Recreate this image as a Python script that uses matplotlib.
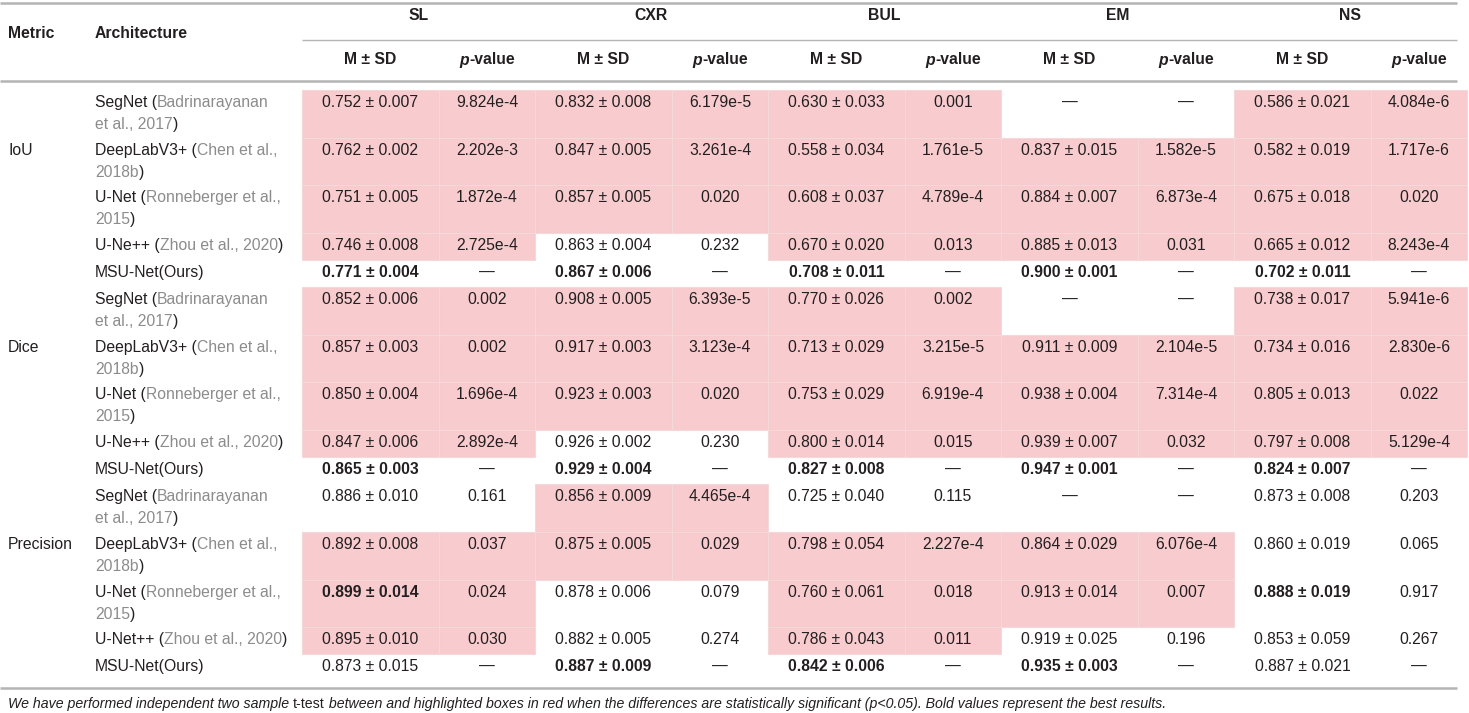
import matplotlib
matplotlib.use("Agg")
import matplotlib.pyplot as plt
from matplotlib.patches import Rectangle

# ---- table content ----
metrics = ["IoU", "Dice", "Precision"]
datasets = ["SL", "CXR", "BUL", "EM", "NS"]
arch_names = [
    ["SegNet", "DeepLabV3+", "U-Net", "U-Ne++", "MSU-Net(Ours)"],
    ["SegNet", "DeepLabV3+", "U-Net", "U-Ne++", "MSU-Net(Ours)"],
    ["SegNet", "DeepLabV3+", "U-Net", "U-Net++", "MSU-Net(Ours)"],
]
cite_line1 = ["Badrinarayanan", "Chen et al.,", "Ronneberger et al.,", "Zhou et al., 2020", None]
cite_line2 = ["et al., 2017", "2018b", "2015", None, None]

iou_mean = [[0.752, 0.832, 0.630, None, 0.586],
            [0.762, 0.847, 0.558, 0.837, 0.582],
            [0.751, 0.857, 0.608, 0.884, 0.675],
            [0.746, 0.863, 0.670, 0.885, 0.665],
            [0.771, 0.867, 0.708, 0.900, 0.702]]
iou_sd = [[0.007, 0.008, 0.033, None, 0.021],
          [0.002, 0.005, 0.034, 0.015, 0.019],
          [0.005, 0.005, 0.037, 0.007, 0.018],
          [0.008, 0.004, 0.020, 0.013, 0.012],
          [0.004, 0.006, 0.011, 0.001, 0.011]]
iou_p = [["9.824e-4", "6.179e-5", "0.001", None, "4.084e-6"],
         ["2.202e-3", "3.261e-4", "1.761e-5", "1.582e-5", "1.717e-6"],
         ["1.872e-4", "0.020", "4.789e-4", "6.873e-4", "0.020"],
         ["2.725e-4", "0.232", "0.013", "0.031", "8.243e-4"],
         [None, None, None, None, None]]

dice_mean = [[0.852, 0.908, 0.770, None, 0.738],
             [0.857, 0.917, 0.713, 0.911, 0.734],
             [0.850, 0.923, 0.753, 0.938, 0.805],
             [0.847, 0.926, 0.800, 0.939, 0.797],
             [0.865, 0.929, 0.827, 0.947, 0.824]]
dice_sd = [[0.006, 0.005, 0.026, None, 0.017],
           [0.003, 0.003, 0.029, 0.009, 0.016],
           [0.004, 0.003, 0.029, 0.004, 0.013],
           [0.006, 0.002, 0.014, 0.007, 0.008],
           [0.003, 0.004, 0.008, 0.001, 0.007]]
dice_p = [["0.002", "6.393e-5", "0.002", None, "5.941e-6"],
          ["0.002", "3.123e-4", "3.215e-5", "2.104e-5", "2.830e-6"],
          ["1.696e-4", "0.020", "6.919e-4", "7.314e-4", "0.022"],
          ["2.892e-4", "0.230", "0.015", "0.032", "5.129e-4"],
          [None, None, None, None, None]]

prec_mean = [[0.886, 0.856, 0.725, None, 0.873],
             [0.892, 0.875, 0.798, 0.864, 0.860],
             [0.899, 0.878, 0.760, 0.913, 0.888],
             [0.895, 0.882, 0.786, 0.919, 0.853],
             [0.873, 0.887, 0.842, 0.935, 0.887]]
prec_sd = [[0.010, 0.009, 0.040, None, 0.008],
           [0.008, 0.005, 0.054, 0.029, 0.019],
           [0.014, 0.006, 0.061, 0.014, 0.019],
           [0.010, 0.005, 0.043, 0.025, 0.059],
           [0.015, 0.009, 0.006, 0.003, 0.021]]
prec_p = [["0.161", "4.465e-4", "0.115", None, "0.203"],
          ["0.037", "0.029", "2.227e-4", "6.076e-4", "0.065"],
          ["0.024", "0.079", "0.018", "0.007", "0.917"],
          ["0.030", "0.274", "0.011", "0.196", "0.267"],
          [None, None, None, None, None]]

footnote = ("We have performed independent two sample ", "t-test",
            " between and highlighted boxes in red when the differences are "
            "statistically significant (p<0.05). Bold values represent the best results.")

means = [iou_mean, dice_mean, prec_mean]
sds = [iou_sd, dice_sd, prec_sd]
pvals = [iou_p, dice_p, prec_p]

# ---- layout (pixels) ----
W, H = 1469, 713
FONT = "Liberation Sans"
FS = 11.3
FS_NOTE = 10.2
DARK = "#231f20"
GRAY = "#8c8c8c"
PINK = "#f8cbce"
LINE = "#b4b4b4"

x_metric = 8
x_arch = 95
x_data = 302
w_msd, w_p = 137, 96
w_group = w_msd + w_p
x_right = x_data + w_group * len(datasets)
x_line_end = 1457
row_h = [47.7, 47.7, 47.7, 26.5, 27.5]
body_top = 90
line_gap = 22
pad_top = 12.5

plt.rcParams["font.family"] = [FONT, "DejaVu Sans"]
fig = plt.figure(figsize=(W / 100, H / 100), dpi=100)
ax = fig.add_axes([0, 0, 1, 1])
ax.set_xlim(0, W)
ax.set_ylim(H, 0)
ax.axis("off")
renderer = fig.canvas.get_renderer()


def text_width(s, **kw):
    t = ax.text(0, 0, "x" + s + "x", fontsize=kw.get("fontsize", FS),
                fontweight=kw.get("fontweight", "normal"),
                fontstyle=kw.get("fontstyle", "normal"))
    w1 = t.get_window_extent(renderer).width
    t.set_text("xx")
    w2 = t.get_window_extent(renderer).width
    t.remove()
    return w1 - w2


def draw_runs(x, y, runs, ha="left"):
    widths = [text_width(s, **kw) for s, kw in runs]
    cur = x - sum(widths) / 2 if ha == "center" else x
    for (s, kw), w in zip(runs, widths):
        opts = dict(fontsize=FS, color=DARK, va="center", ha="left")
        opts.update(kw)
        ax.text(cur, y, s, **opts)
        cur += w


# ---- header ----
ax.plot([0, x_line_end], [3, 3], color=LINE, lw=1.8, solid_capstyle="butt")
ax.plot([x_data, x_line_end], [40, 40], color=LINE, lw=1.0, solid_capstyle="butt")
ax.plot([0, x_line_end], [81, 81], color=LINE, lw=1.8, solid_capstyle="butt")
ax.text(x_metric, 34, "Metric", fontsize=FS, fontweight="bold", color=DARK, va="center")
ax.text(x_arch, 34, "Architecture", fontsize=FS, fontweight="bold", color=DARK, va="center")
for g, name in enumerate(datasets):
    gx = x_data + g * w_group
    ax.text(gx + w_group / 2, 16, name, fontsize=FS, fontweight="bold", color=DARK,
            va="center", ha="center")
    ax.text(gx + w_msd / 2, 60, "M \u00b1 SD", fontsize=FS, fontweight="bold", color=DARK,
            va="center", ha="center")
    draw_runs(gx + w_msd + w_p / 2, 60,
              [("p", dict(fontweight="bold", fontstyle="italic")),
               ("-value", dict(fontweight="bold"))], ha="center")

# ---- body ----
y = body_top
for m, metric in enumerate(metrics):
    mean, sd, pv = means[m], sds[m], pvals[m]
    best = []
    for d in range(len(datasets)):
        col = [mean[a][d] for a in range(len(mean)) if mean[a][d] is not None]
        best.append(max(col))
    for a, arch in enumerate(arch_names[m]):
        h = row_h[a]
        ty = y + pad_top
        if a == 1:
            ax.text(x_metric, ty, metric, fontsize=FS, color=DARK, va="center")
        # architecture label
        if cite_line1[a] is None:
            draw_runs(x_arch, ty, [(arch, {})])
        elif cite_line2[a] is None:
            draw_runs(x_arch, ty, [(arch + " (", {}), (cite_line1[a], dict(color=GRAY)), (")", {})])
        else:
            draw_runs(x_arch, ty, [(arch + " (", {}), (cite_line1[a], dict(color=GRAY))])
            draw_runs(x_arch, ty + line_gap, [(cite_line2[a], dict(color=GRAY)), (")", {})])
        for d in range(len(datasets)):
            gx = x_data + d * w_group
            p = pv[a][d]
            # significant differences (p < 0.05) are highlighted
            if p is not None and float(p) < 0.05:
                for cx, cw in [(gx, w_msd), (gx + w_msd, w_p)]:
                    ax.add_patch(Rectangle((cx, y), cw, h, facecolor=PINK,
                                           edgecolor="#f4d9db", lw=0.8, zorder=0))
            if mean[a][d] is None:
                msd = "\u2014"
                weight = "normal"
            else:
                msd = f"{mean[a][d]:.3f} \u00b1 {sd[a][d]:.3f}"
                weight = "bold" if mean[a][d] == best[d] else "normal"
            ax.text(gx + w_msd / 2, ty, msd, fontsize=FS, fontweight=weight, color=DARK,
                    va="center", ha="center")
            ax.text(gx + w_msd + w_p / 2, ty, p if p is not None else "\u2014",
                    fontsize=FS, color=DARK, va="center", ha="center")
        y += h

ax.plot([0, x_line_end], [688, 688], color=LINE, lw=1.8, solid_capstyle="butt")

# ---- footnote ----
draw_runs(x_metric, 704, [(footnote[0], dict(fontstyle="italic", fontsize=FS_NOTE)),
                          (footnote[1], dict(fontsize=FS_NOTE)),
                          (footnote[2], dict(fontstyle="italic", fontsize=FS_NOTE))])

fig.savefig("out.png", dpi=100, facecolor="white")
